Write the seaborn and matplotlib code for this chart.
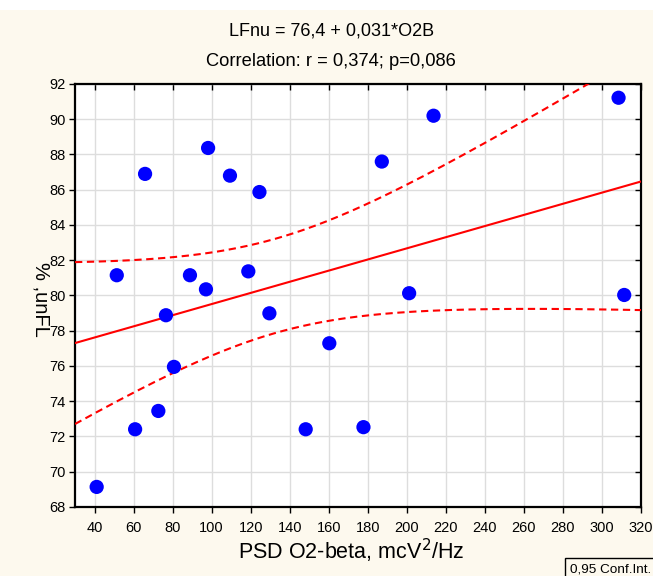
import numpy as np
import pandas as pd
import matplotlib
matplotlib.use("Agg")
import matplotlib.pyplot as plt
import seaborn as sns

# Data
o2b = [41.1, 60.8, 72.7, 76.6, 80.7, 51.4, 65.9, 88.9, 97.1, 98.2, 109.4,
       118.8, 124.5, 129.6, 148.2, 160.3, 177.8, 187.2, 201.2, 213.7, 308.5, 311.4]
lfnu = [69.14, 72.41, 73.45, 78.88, 75.95, 81.15, 86.9, 81.15, 80.35, 88.37, 86.8,
        81.37, 85.87, 78.99, 72.41, 77.29, 72.53, 87.6, 80.13, 90.2, 91.22, 80.03]
xticks = list(range(40, 321, 20))
yticks = list(range(68, 93, 2))

title1 = "LFnu = 76,4 + 0,031*O2B"
title2 = "Correlation: r = 0,374; p=0,086"
xlabel = "PSD O2-beta, mcV$^2$/Hz"
ylabel = "LFnu, %"
legend_text = "0,95 Conf.Int."

df = pd.DataFrame({"O2B": o2b, "LFnu": lfnu})

sns.set_theme(style="white")
plt.rcParams["font.family"] = ["Liberation Sans", "DejaVu Sans"]

fig = plt.figure(figsize=(6.53, 5.76), dpi=100)
fig.patch.set_facecolor("#FDF9EE")
W, H = 653, 576
# white strip at top
fig.patches.append(plt.Rectangle((0, 1 - 10 / H), 1, 10 / H, transform=fig.transFigure,
                                 facecolor="white", edgecolor="none", zorder=0))

ax = fig.add_axes([75 / W, 1 - 507 / H, (641 - 75) / W, (507 - 84) / H])
ax.set_facecolor("white")

# regression + analytic 95% CI of mean
x = np.asarray(o2b); y = np.asarray(lfnu)
n = len(x)
b, a = np.polyfit(x, y, 1)
xs = np.linspace(30, 320, 300)
yhat = a + b * xs
resid = y - (a + b * x)
s = np.sqrt(np.sum(resid ** 2) / (n - 2))
sxx = np.sum((x - x.mean()) ** 2)
tval = 2.086
se = s * np.sqrt(1 / n + (xs - x.mean()) ** 2 / sxx)
fit = pd.DataFrame({"x": xs, "fit": yhat, "lo": yhat - tval * se, "hi": yhat + tval * se})

sns.lineplot(data=fit, x="x", y="fit", ax=ax, color="#FF0000", lw=1.5, zorder=3)
for col in ["lo", "hi"]:
    sns.lineplot(data=fit, x="x", y=col, ax=ax, color="#FF0000", lw=1.5,
                 dashes=False, zorder=3).lines[-1].set_dashes((3.5, 2.2))

sns.scatterplot(data=df, x="O2B", y="LFnu", ax=ax, color="#0000FF", s=105,
                edgecolor="none", zorder=4)

ax.set_xlim(30, 320)
ax.set_ylim(68, 92)
ax.set_xticks(xticks)
ax.set_yticks(yticks)
ax.grid(True, color="#DDDDDD", lw=1)
ax.set_axisbelow(True)
for sp in ax.spines.values():
    sp.set_visible(True)
    sp.set_color("black")
    sp.set_linewidth(1.6)
ax.tick_params(axis="both", which="both", labelsize=10.5, colors="black",
               direction="out", length=4, width=1, pad=3)
ax.tick_params(top=True, right=True, bottom=True, left=True)
ax.tick_params(axis="x", pad=6)
ax.set_xlabel("")
ax.set_ylabel("")

# top/right ticks point inward
for t in ax.xaxis.get_major_ticks():
    t.tick2line.set_marker(3)
for t in ax.yaxis.get_major_ticks():
    t.tick2line.set_marker(0)

fig.text(0.507, 1 - 30.5 / H, title1, ha="center", va="center", fontsize=13, color="black")
fig.text(0.507, 1 - 62 / H, title2, ha="center", va="center", fontsize=13.2, color="black")
fig.text(351 / W, 1 - 551 / H, xlabel, ha="center", va="center", fontsize=15.5, color="black")
# y label rendered as in the reference (glyphs turned clockwise, reading bottom-to-top)
fig.text(41 / W, 1 - 299 / H, ylabel[::-1], ha="center", va="center", fontsize=14.5,
         rotation=-90, color="black")
fig.text(570 / W, 1 - 569 / H, legend_text, ha="left", va="center", fontsize=9.7,
         color="black", bbox=dict(boxstyle="square,pad=0.35", facecolor="#FDF9EE",
                                  edgecolor="black", lw=1))

fig.savefig("out.png", dpi=100, facecolor=fig.get_facecolor())
